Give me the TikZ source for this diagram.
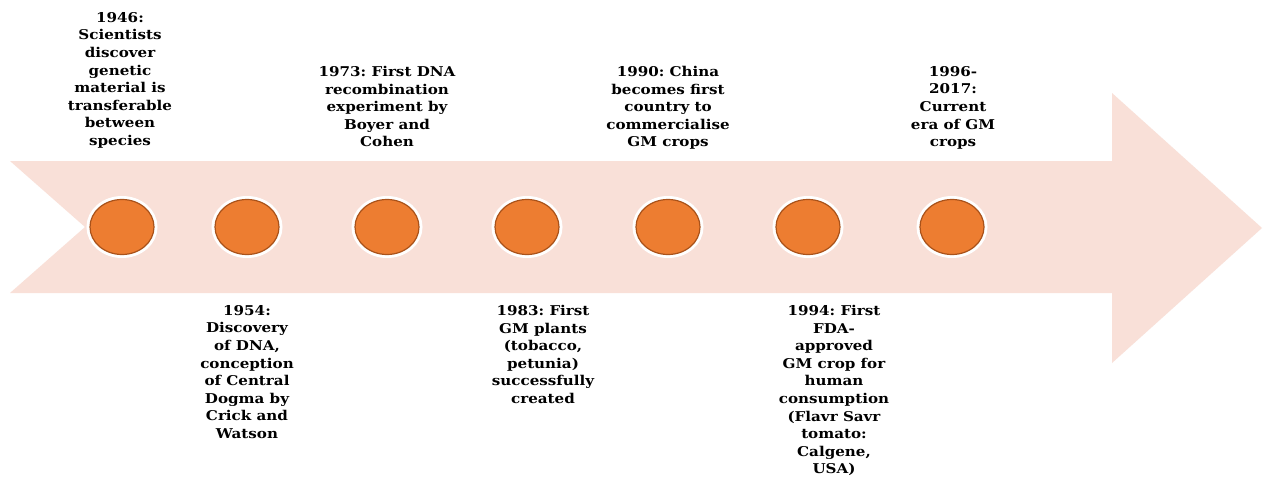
\documentclass[tikz,border=0pt]{standalone}
\usepackage{fontspec}
\setmainfont{DejaVu Serif}
\newfontfamily\lblfont[FakeStretch=1.12]{DejaVu Serif}
\usetikzlibrary{shapes.geometric}
\definecolor{arrowpink}{HTML}{F9E0D8}
\definecolor{dotorange}{HTML}{ED7D31}
\definecolor{dotedge}{HTML}{A9521A}
\tikzset{
  dot/.style={ellipse, minimum width=64pt, minimum height=55pt, inner sep=0pt,
    fill=dotorange, draw=dotedge, line width=1.2pt,
    preaction={draw=white, line width=7pt}},
  lbl/.style={align=center, font=\frenchspacing\lblfont\bfseries\fontsize{13.5}{17.6}\selectfont,
    inner sep=0pt, text=black, anchor=north}
}
\begin{document}
\begin{tikzpicture}[x=1pt,y=-1pt]
\useasboundingbox (0,0) rectangle (1263,479);
\fill[white] (0,0) rectangle (1263,479);
% arrow body
\fill[arrowpink] (10,161) -- (1112,161) -- (1112,93) -- (1262,228) -- (1112,363)
  -- (1112,293) -- (10,293) -- (85,227) -- cycle;
% dots
\node[dot] (c1) at (122,227) {};
\node[dot] (c2) at (247,227) {};
\node[dot] (c3) at (387,227) {};
\node[dot] (c4) at (527,227) {};
\node[dot] (c5) at (668,227) {};
\node[dot] (c6) at (808,227) {};
\node[dot] (c7) at (952,227) {};
% labels above
\node[lbl] (t1) at (120,12) {1946:\\Scientists\\discover\\genetic\\material is\\transferable\\between\\species};
\node[lbl] (t3) at (387,66) {1973: First DNA\\recombination\\experiment by\\Boyer and\\Cohen};
\node[lbl] (t5) at (668,66) {1990: China\\becomes first\\country to\\commercialise\\GM crops};
\node[lbl] (t7) at (953,66) {1996-\\2017:\\Current\\era of GM\\crops};
% labels below
\node[lbl] (t2) at (247,305) {1954:\\Discovery\\of DNA,\\conception\\of Central\\Dogma by\\Crick and\\Watson};
\node[lbl] (t4) at (543,305) {1983: First\\GM plants\\(tobacco,\\petunia)\\successfully\\created};
\node[lbl] (t6) at (834,305) {1994: First\\FDA-\\approved\\GM crop for\\human\\consumption\\(Flavr Savr\\tomato:\\Calgene,\\USA)};
\end{tikzpicture}
\end{document}
